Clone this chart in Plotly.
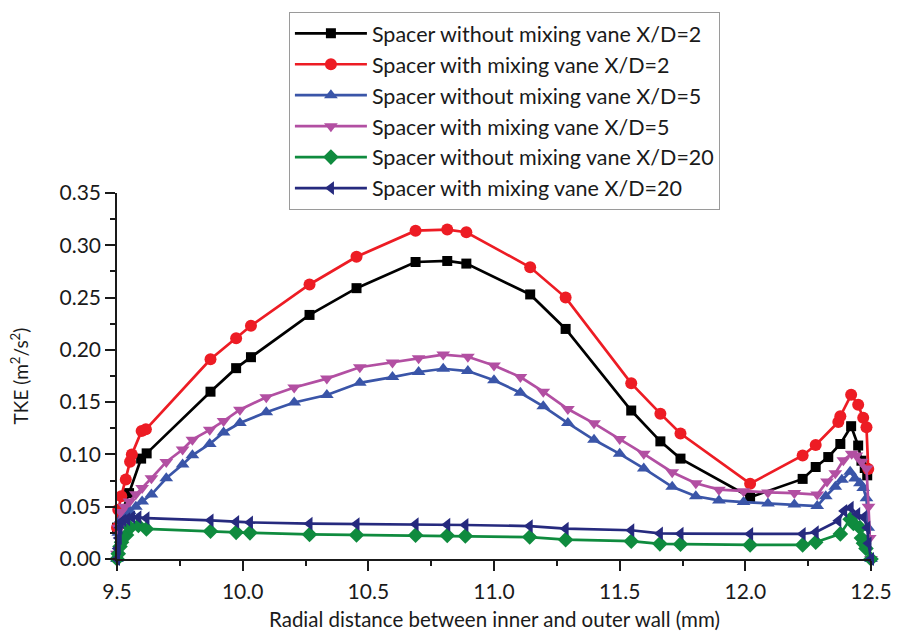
import plotly.graph_objects as go

# ---- data ----
black_x = [9.5, 9.52, 9.548, 9.596, 9.618, 9.872, 9.974, 10.033, 10.266, 10.453, 10.688, 10.814, 10.890,
           11.144, 11.285, 11.546, 11.662, 11.742, 12.019, 12.228, 12.280, 12.33, 12.378, 12.421, 12.449,
           12.462, 12.475, 12.485]
black_y = [0.03, 0.045, 0.063, 0.096, 0.101, 0.160, 0.1825, 0.193, 0.2334, 0.259, 0.284, 0.285, 0.2825,
           0.253, 0.220, 0.142, 0.1125, 0.096, 0.059, 0.0766, 0.088, 0.0975, 0.110, 0.127, 0.1085,
           0.094, 0.087, 0.08]

red_x = [9.5, 9.505, 9.517, 9.535, 9.552, 9.559, 9.598, 9.615, 9.872, 9.974, 10.033, 10.266, 10.453,
         10.688, 10.814, 10.890, 11.144, 11.285, 11.546, 11.662, 11.742, 12.019, 12.228, 12.280, 12.37,
         12.378, 12.421, 12.449, 12.469, 12.482, 12.489]
red_y = [0.03, 0.047, 0.060, 0.076, 0.093, 0.100, 0.1225, 0.124, 0.191, 0.211, 0.223, 0.2625, 0.289,
         0.314, 0.315, 0.3125, 0.279, 0.250, 0.168, 0.139, 0.120, 0.072, 0.099, 0.109, 0.131,
         0.1366, 0.157, 0.1475, 0.135, 0.126, 0.086]

mid_x = [9.637, 9.696, 9.761, 9.800, 9.869, 9.924, 9.989, 10.094, 10.205, 10.335, 10.466, 10.596, 10.700,
         10.798, 10.896, 11.000, 11.105, 11.196, 11.294, 11.398, 11.500, 11.596, 11.709, 11.803, 11.895,
         11.993, 12.090, 12.195, 12.286]

blue_x = [9.5, 9.505, 9.515, 9.53, 9.55, 9.575, 9.6] + mid_x + [12.32, 12.358, 12.384, 12.417, 12.436,
                                                           12.456, 12.469, 12.482, 12.489, 12.5]
blue_y = [0.0, 0.025, 0.038, 0.043, 0.046, 0.05, 0.055,
          0.0616, 0.0772, 0.0903, 0.0991, 0.110, 0.121, 0.130, 0.1403, 0.1497, 0.1568, 0.1685, 0.174, 0.1788,
          0.1819, 0.1797, 0.1709, 0.159, 0.146, 0.130, 0.114, 0.1006, 0.0866, 0.069, 0.060, 0.056,
          0.0544, 0.053, 0.052, 0.0506,
          0.060, 0.069, 0.0757, 0.0834, 0.077, 0.0725, 0.068, 0.058, 0.03, 0.0]

purple_x = [9.5, 9.505, 9.515, 9.53, 9.55, 9.575, 9.6] + mid_x + [12.325, 12.358, 12.390, 12.423, 12.442,
                                                             12.462, 12.482, 12.49, 12.495, 12.5]
purple_y = [0.005, 0.03, 0.045, 0.05, 0.055, 0.062, 0.068,
            0.0772, 0.0928, 0.1047, 0.1141, 0.1235, 0.1319, 0.1428, 0.1547, 0.164, 0.1725, 0.1834, 0.188,
            0.192, 0.1955, 0.1934, 0.185, 0.174, 0.160, 0.1434, 0.1297, 0.1147, 0.1006, 0.083, 0.0725,
            0.0663, 0.0647, 0.0637, 0.063, 0.0616,
            0.074, 0.082, 0.0944, 0.1006, 0.099, 0.093, 0.0866, 0.05, 0.02, 0.0]

green_x = [9.5, 9.505, 9.512, 9.518, 9.538, 9.552, 9.585, 9.617, 9.872, 9.974, 10.029, 10.266, 10.453,
           10.688, 10.814, 10.886, 11.142, 11.285, 11.546, 11.660, 11.742, 12.019, 12.228, 12.280,
           12.378, 12.417, 12.43, 12.456, 12.462, 12.47, 12.48, 12.5]
green_y = [0.0, 0.005, 0.012, 0.016, 0.023, 0.030, 0.032, 0.0288, 0.0265, 0.0255, 0.025, 0.0235, 0.023,
           0.0228, 0.0225, 0.022, 0.021, 0.0185, 0.017, 0.0145, 0.0142, 0.0135, 0.0135, 0.016,
           0.024, 0.038, 0.034, 0.030, 0.020, 0.015, 0.01, 0.0]

navy_x = [9.5, 9.503, 9.507, 9.51, 9.515, 9.525, 9.54, 9.56, 9.585, 9.617, 9.872, 9.974, 10.029, 10.266,
          10.453, 10.688, 10.814, 10.886, 11.142, 11.285, 11.546, 11.660, 11.742, 12.019, 12.228, 12.280,
          12.37, 12.393, 12.419, 12.445, 12.471, 12.485, 12.49, 12.5]
navy_y = [0.0, 0.01, 0.02, 0.03, 0.035, 0.037, 0.038, 0.040, 0.040, 0.039, 0.037, 0.0355, 0.035, 0.0338,
          0.0334, 0.0332, 0.0328, 0.0325, 0.0315, 0.029, 0.0275, 0.0245, 0.0242, 0.024, 0.024, 0.0256,
          0.0366, 0.046, 0.049, 0.043, 0.040, 0.03, 0.015, 0.0]

names = ["Spacer without mixing vane X/D=2", "Spacer with mixing vane X/D=2",
         "Spacer without mixing vane X/D=5", "Spacer with mixing vane X/D=5",
         "Spacer without mixing vane X/D=20", "Spacer with mixing vane X/D=20"]

x_ticks = [9.5, 10.0, 10.5, 11.0, 11.5, 12.0, 12.5]
y_ticks = [0.00, 0.05, 0.10, 0.15, 0.20, 0.25, 0.30, 0.35]
x_title = "Radial distance between inner and outer wall (mm)"
y_title = "TKE (m<sup>2</sup>/s<sup>2</sup>)"

series = [
    (black_x, black_y, "#000000", "square", 10),
    (red_x, red_y, "#ED1C24", "circle", 12),
    (blue_x, blue_y, "#3A55A8", "triangle-up", 12),
    (purple_x, purple_y, "#B24FA2", "triangle-down", 12),
    (green_x, green_y, "#0F8B3E", "diamond", 12),
    (navy_x, navy_y, "#262A7E", "triangle-left", 12),
]

FONT = "Lato"

fig = go.Figure()
for i, ((xs, ys, col, sym, sz), nm) in enumerate(zip(series, names)):
    fig.add_trace(go.Scatter(
        x=xs, y=ys, name=nm, mode="lines+markers", legendgroup=f"g{i}",
        line=dict(color=col, width=2.7),
        marker=dict(symbol=sym, size=sz, color=col, line=dict(width=0)),
        cliponaxis=False,
    ))

fig.add_annotation(text=x_title, xref="paper", yref="paper", x=0.5, y=-0.165,
                   xanchor="center", yanchor="middle", showarrow=False,
                   font=dict(family=FONT, size=20.5, color="#1a1a1a"))

fig.update_layout(
    width=904, height=642,
    margin=dict(l=117, r=21, t=186, b=83),
    paper_bgcolor="white", plot_bgcolor="white",
    font=dict(family=FONT, color="#1a1a1a", size=19),
    showlegend=True,
    legend=dict(
        x=0.228, y=1.495, xanchor="left", yanchor="top",
        bgcolor="white", bordercolor="#9a9a9a", borderwidth=1,
        font=dict(family=FONT, size=21.5, color="#1a1a1a"),
        tracegroupgap=0, itemwidth=72,
    ),
    xaxis=dict(
        range=[9.5, 12.5], tickvals=x_ticks, tickformat=".1f",
        showline=True, linecolor="#1a1a1a", linewidth=1.5, mirror=False,
        ticks="outside", ticklen=10, tickwidth=1.5, tickcolor="#1a1a1a",
        ticklabelstandoff=3,
        showgrid=False, zeroline=False,
        minor=dict(tickvals=[9.75, 10.25, 10.75, 11.25, 11.75, 12.25], ticks="outside",
                   ticklen=5, tickwidth=1.5, tickcolor="#1a1a1a"),
        tickfont=dict(size=21),
    ),
    yaxis=dict(
        range=[0, 0.35], tickvals=y_ticks, tickformat=".2f",
        showline=True, linecolor="#1a1a1a", linewidth=1.5, mirror=False,
        ticks="outside", ticklen=10, tickwidth=1.5, tickcolor="#1a1a1a",
        showgrid=False, zeroline=False,
        minor=dict(tickvals=[0.025, 0.075, 0.125, 0.175, 0.225, 0.275, 0.325], ticks="outside",
                   ticklen=5, tickwidth=1.5, tickcolor="#1a1a1a"),
        tickfont=dict(size=21),
        title=dict(text=y_title, font=dict(size=19), standoff=26),
    ),
)

fig.write_html("out.html")
